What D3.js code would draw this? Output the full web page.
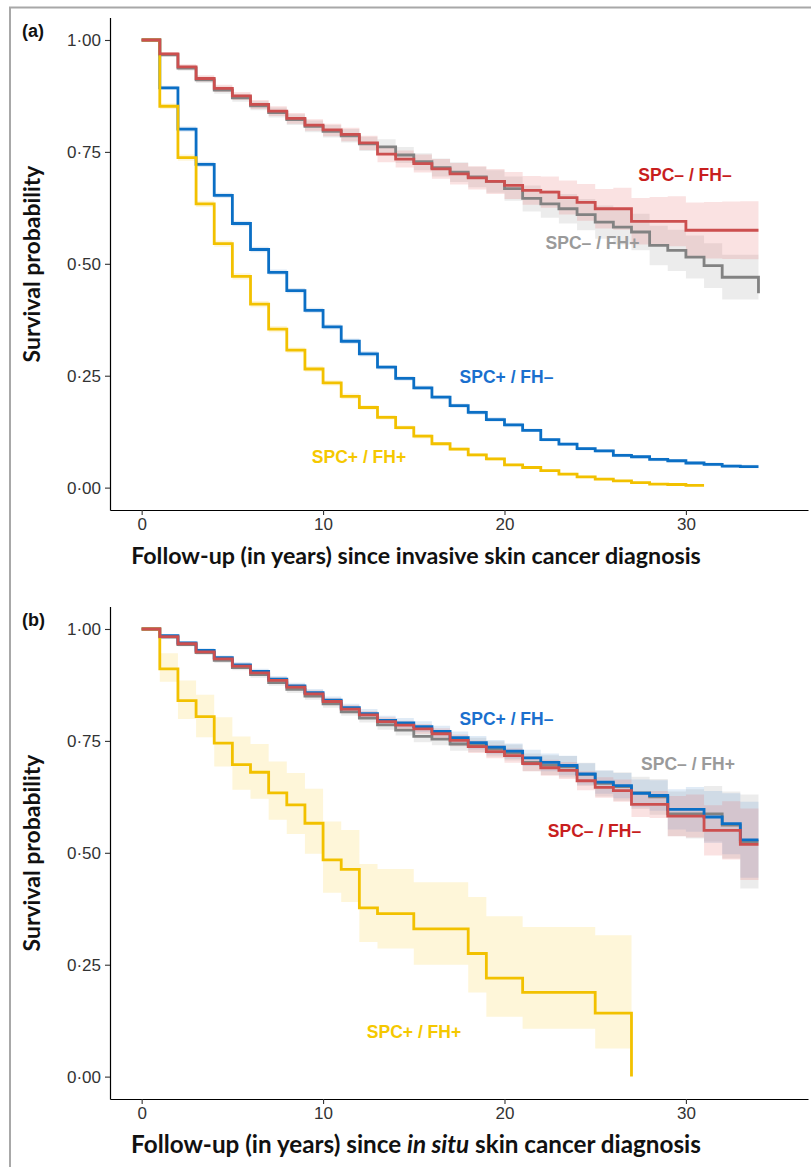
<!DOCTYPE html>
<html>
<head>
<meta charset="utf-8">
<script src="https://cdn.jsdelivr.net/npm/d3@7"></script>
<style>
  html, body { margin: 0; padding: 0; background: #fff; }
  svg { display: block; }
  .tick text { font-family: "Liberation Sans", Arial, sans-serif; font-size: 17px; fill: #333; }
  .tick line { stroke: #333; }
  .domain { stroke: #000; stroke-width: 1.2px; }
</style>
</head>
<body>
<svg id="chart" width="811" height="1167"></svg>
<script>
// step times (years)
const years34 = [0,1,2,3,4,5,6,7,8,9,10,11,12,13,14,15,16,17,18,19,20,21,22,23,24,25,26,27,28,29,30,31,32,33,34];
const years31 = [0,1,2,3,4,5,6,7,8,9,10,11,12,13,14,15,16,17,18,19,20,21,22,23,24,25,26,27,28,29,30,31];
const yearsYellowB = [0,1,2,3,4,5,6,7,8,9,10,11,12,13,15,18,19,21,25,27];

// (a) invasive skin cancer
const redA    = [1.000,0.969,0.940,0.914,0.892,0.875,0.856,0.841,0.825,0.810,0.799,0.789,0.770,0.745,0.734,0.724,0.712,0.701,0.692,0.684,0.675,0.664,0.660,0.648,0.637,0.623,0.623,0.595,0.595,0.595,0.575,0.575,0.575,0.575,0.575];
const redACi  = [0,0.004,0.006,0.007,0.008,0.009,0.010,0.011,0.012,0.013,0.014,0.015,0.016,0.018,0.019,0.020,0.022,0.024,0.026,0.028,0.030,0.032,0.035,0.038,0.041,0.044,0.047,0.052,0.054,0.056,0.062,0.063,0.064,0.065,0.065];
const grayA   = [1.000,0.967,0.937,0.911,0.888,0.871,0.853,0.838,0.822,0.807,0.796,0.786,0.768,0.761,0.743,0.728,0.715,0.705,0.694,0.684,0.668,0.646,0.634,0.623,0.610,0.593,0.582,0.571,0.541,0.530,0.515,0.496,0.470,0.470,0.434];
const grayACi = [0,0.004,0.006,0.007,0.008,0.009,0.010,0.011,0.012,0.013,0.014,0.015,0.016,0.017,0.018,0.019,0.020,0.022,0.023,0.025,0.027,0.029,0.031,0.033,0.035,0.037,0.039,0.041,0.044,0.046,0.048,0.050,0.050,0.050,0.050];
const blueA   = [1.000,0.893,0.801,0.722,0.653,0.590,0.532,0.481,0.440,0.396,0.359,0.327,0.299,0.269,0.244,0.223,0.202,0.183,0.168,0.152,0.140,0.128,0.107,0.097,0.087,0.082,0.072,0.069,0.063,0.060,0.055,0.052,0.048,0.047,0.047];
const blueACi = [0,0.005,0.006,0.006,0.006,0.006,0.006,0.006,0.006,0.006,0.006,0.006,0.006,0.005,0.005,0.005,0.005,0.005,0.005,0.005,0.005,0.004,0.004,0.004,0.004,0.004,0.004,0.004,0.004,0.004,0.004,0.004,0.004,0.004,0.004];
const yellowA   = [1.000,0.852,0.737,0.634,0.545,0.472,0.410,0.354,0.307,0.265,0.234,0.204,0.179,0.157,0.134,0.115,0.098,0.086,0.073,0.064,0.051,0.045,0.038,0.030,0.024,0.019,0.015,0.011,0.008,0.007,0.005,0.005];
const yellowACi = [0,0.006,0.007,0.007,0.007,0.007,0.007,0.007,0.006,0.006,0.006,0.006,0.005,0.005,0.005,0.005,0.004,0.004,0.004,0.004,0.003,0.003,0.003,0.003,0.003,0.003,0.002,0.002,0.002,0.002,0.002,0.002];

// (b) in situ skin cancer
const redB    = [1.000,0.983,0.967,0.949,0.933,0.917,0.902,0.885,0.870,0.855,0.838,0.821,0.808,0.793,0.785,0.777,0.766,0.751,0.737,0.726,0.717,0.699,0.690,0.684,0.661,0.646,0.639,0.608,0.608,0.582,0.582,0.550,0.550,0.519,0.519];
const redBCi  = [0,0.003,0.004,0.005,0.005,0.006,0.006,0.007,0.007,0.008,0.008,0.009,0.009,0.010,0.010,0.011,0.012,0.013,0.014,0.015,0.016,0.017,0.018,0.019,0.021,0.023,0.025,0.028,0.030,0.045,0.048,0.056,0.065,0.080,0.080];
const grayB   = [1.000,0.982,0.965,0.947,0.930,0.914,0.898,0.880,0.865,0.850,0.833,0.815,0.801,0.786,0.774,0.760,0.754,0.743,0.741,0.732,0.724,0.702,0.696,0.692,0.675,0.655,0.648,0.634,0.625,0.587,0.587,0.587,0.562,0.525,0.525];
const grayBCi = [0,0.003,0.004,0.005,0.006,0.006,0.007,0.007,0.008,0.008,0.009,0.009,0.010,0.011,0.012,0.013,0.014,0.015,0.016,0.017,0.018,0.020,0.022,0.024,0.026,0.029,0.032,0.036,0.040,0.050,0.055,0.062,0.075,0.105,0.105];
const blueB   = [1.000,0.985,0.969,0.952,0.936,0.920,0.905,0.888,0.873,0.858,0.841,0.824,0.811,0.796,0.790,0.782,0.771,0.757,0.746,0.736,0.727,0.712,0.702,0.695,0.676,0.658,0.650,0.633,0.628,0.597,0.597,0.580,0.565,0.529,0.529];
const blueBCi = [0,0.003,0.004,0.005,0.005,0.006,0.006,0.007,0.007,0.008,0.008,0.009,0.010,0.010,0.011,0.012,0.013,0.014,0.015,0.016,0.017,0.018,0.020,0.022,0.024,0.026,0.028,0.031,0.034,0.045,0.050,0.058,0.068,0.085,0.085];
const yellowB   = [1.000,0.911,0.840,0.804,0.745,0.697,0.680,0.634,0.607,0.566,0.484,0.463,0.377,0.364,0.330,0.275,0.220,0.188,0.142,0.000];
const yellowBLo = [1.000,0.882,0.799,0.758,0.693,0.641,0.621,0.574,0.542,0.498,0.411,0.390,0.301,0.286,0.250,0.188,0.134,0.107,0.063,0.063];
const yellowBHi = [1.000,0.946,0.885,0.853,0.803,0.760,0.743,0.704,0.678,0.643,0.570,0.551,0.475,0.464,0.434,0.401,0.358,0.334,0.316,0.316];

const xTicks = [0, 10, 20, 30];
const yTicks = [0, 0.25, 0.5, 0.75, 1];

const colors = {
  red:    { line: "#cc4f4f", band: "rgba(230,110,110,0.20)", text: "#c81e1e" },
  gray:   { line: "#828282", band: "rgba(160,160,160,0.20)", text: "#9a9a9a" },
  blue:   { line: "#0b6fc5", band: "rgba(60,130,200,0.16)",  text: "#1a6fce" },
  yellow: { line: "#f2c100", band: "rgba(250,215,80,0.22)",  text: "#f5c800" }
};

function withCi(times, surv, ci) {
  return times.map((t, i) => ({ t: t, s: surv[i], lo: surv[i] - ci[i], hi: Math.min(1, surv[i] + ci[i]) }));
}
function withLoHi(times, surv, lo, hi) {
  return times.map((t, i) => ({ t: t, s: surv[i], lo: lo[i], hi: hi[i] }));
}

const panels = [
  {
    tag: "(a)", top: 0,
    title: [{ text: "Follow-up (in years) since invasive skin cancer diagnosis" }],
    series: [
      { key: "gray",   data: withCi(years34, grayA, grayACi) },
      { key: "blue",   data: withCi(years34, blueA, blueACi) },
      { key: "yellow", data: withCi(years31, yellowA, yellowACi) },
      { key: "red",    data: withCi(years34, redA, redACi) }
    ],
    labels: [
      { key: "red",    text: "SPC– / FH–", x: 685,   y: 175 },
      { key: "gray",   text: "SPC– / FH+", x: 592.5, y: 243 },
      { key: "blue",   text: "SPC+ / FH–", x: 506.5, y: 377 },
      { key: "yellow", text: "SPC+ / FH+", x: 359,   y: 457 }
    ]
  },
  {
    tag: "(b)", top: 589,
    title: [{ text: "Follow-up (in years) since " }, { text: "in situ", italic: true }, { text: " skin cancer diagnosis" }],
    series: [
      { key: "gray",   data: withCi(years34, grayB, grayBCi) },
      { key: "blue",   data: withCi(years34, blueB, blueBCi) },
      { key: "yellow", data: withLoHi(yearsYellowB, yellowB, yellowBLo, yellowBHi) },
      { key: "red",    data: withCi(years34, redB, redBCi) }
    ],
    labels: [
      { key: "blue",   text: "SPC+ / FH–", x: 506.5, y: 130 },
      { key: "gray",   text: "SPC– / FH+", x: 688,   y: 175 },
      { key: "red",    text: "SPC– / FH–", x: 594.5, y: 242 },
      { key: "yellow", text: "SPC+ / FH+", x: 414,   y: 443 }
    ]
  }
];

const svg = d3.select("#chart");

// outer frame (top and left edges visible)
svg.append("path")
  .attr("d", "M10,1167V7.5H811")
  .attr("fill", "none")
  .attr("stroke", "#a8a8a8")
  .attr("stroke-width", 2);

const fmtY = d => d3.format(".2f")(d).replace(".", "·");

function fitText(sel, target) {
  let w = sel.node().getComputedTextLength(),
      fs = parseFloat(sel.attr("font-size"));
  sel.attr("font-size", fs * target / w);
}

panels.forEach(p => {
  const g = svg.append("g").attr("transform", `translate(0,${p.top})`);

  const x = d3.scaleLinear().domain([-1.745, 36.73]).range([110, 808]);
  const y = d3.scaleLinear().domain([-0.05, 1.05]).range([510, 17.6]);

  const area = d3.area()
    .curve(d3.curveStepAfter)
    .x(d => x(d.t))
    .y0(d => y(d.lo))
    .y1(d => y(d.hi));

  const line = d3.line()
    .curve(d3.curveStepAfter)
    .x(d => x(d.t))
    .y(d => y(d.s));

  g.append("g")
    .selectAll("path.band")
    .data(p.series)
    .enter().append("path")
      .classed("band", true)
      .attr("d", d => area(d.data))
      .attr("fill", d => colors[d.key].band)
      .attr("stroke", "none");

  g.append("g")
    .selectAll("path.km")
    .data(p.series)
    .enter().append("path")
      .classed("km", true)
      .attr("d", d => line(d.data))
      .attr("fill", "none")
      .attr("stroke", d => colors[d.key].line)
      .attr("stroke-width", 2.8)
      .attr("stroke-linejoin", "miter");

  g.append("g")
    .attr("transform", "translate(110,0)")
    .call(d3.axisLeft(y).tickValues(yTicks).tickFormat(fmtY).tickSize(5).tickSizeOuter(0).tickPadding(4));

  g.append("g")
    .attr("transform", "translate(0,510)")
    .call(d3.axisBottom(x).tickValues(xTicks).tickFormat(d3.format("d")).tickSize(5).tickSizeOuter(0).tickPadding(3));

  g.selectAll(".tick line").attr("stroke-width", 1.1);

  // curve labels
  g.append("g")
    .selectAll("text")
    .data(p.labels)
    .enter().append("text")
      .attr("x", d => d.x)
      .attr("y", d => d.y)
      .attr("dy", "0.36em")
      .attr("text-anchor", "middle")
      .attr("font-family", "'Liberation Sans', Arial, sans-serif")
      .attr("font-weight", "bold")
      .attr("font-size", 17.5)
      .attr("fill", d => colors[d.key].text)
      .text(d => d.text);

  // panel tag
  g.append("text")
    .attr("x", 22)
    .attr("y", 37)
    .attr("font-family", "'Liberation Sans', Arial, sans-serif")
    .attr("font-weight", "bold")
    .attr("font-size", 18)
    .attr("fill", "#111")
    .text(p.tag);

  // axis titles
  let yt = g.append("text")
    .attr("transform", "translate(40,264) rotate(-90)")
    .attr("text-anchor", "middle")
    .attr("font-family", "Lato, 'Open Sans', sans-serif")
    .attr("font-weight", "bold")
    .attr("font-size", 22)
    .attr("fill", "#111")
    .text("Survival probability");
  fitText(yt, 197);

  let xt = g.append("text")
    .attr("x", 416)
    .attr("y", 564)
    .attr("text-anchor", "middle")
    .attr("font-family", "Lato, 'Open Sans', sans-serif")
    .attr("font-weight", "bold")
    .attr("font-size", 22)
    .attr("fill", "#111");
  xt.selectAll("tspan")
    .data(p.title)
    .enter().append("tspan")
      .attr("font-style", d => d.italic ? "italic" : "normal")
      .text(d => d.text);
  fitText(xt, 570);
});
</script>
</body>
</html>
